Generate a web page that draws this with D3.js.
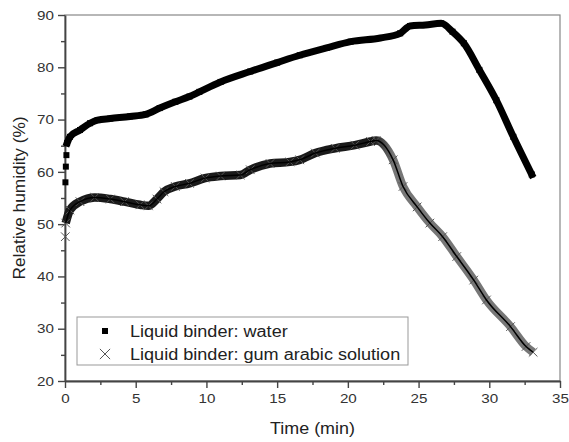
<!DOCTYPE html>
<html>
<head>
<meta charset="utf-8">
<script src="https://cdn.jsdelivr.net/npm/d3@7"></script>
<style>
  body { margin: 0; background: #fff; }
  svg { font-family: "Liberation Sans", Arial, sans-serif; }
</style>
</head>
<body>
<svg id="chart"></svg>
<script>
// values
const waterTime = [0.03, 0.06, 0.1, 0.15, 0.35, 1.06, 1.77, 2.3, 3.2, 4.6, 5.7, 6.7, 7.8, 8.8, 9.5, 11, 13.1, 15, 16.6, 18.5, 20.2, 22.3, 23.7, 24.4, 25.5, 26.6, 27.4, 28.2, 29.3, 30.5, 31.7, 33.0];
const waterRH   = [58, 61, 63.2, 65.5, 66.7, 68, 69.3, 69.9, 70.2, 70.6, 71.0, 72.2, 73.4, 74.4, 75.3, 77.2, 79.2, 80.9, 82.3, 83.7, 84.9, 85.6, 86.5, 87.9, 88.1, 88.4, 86.8, 84.6, 79.5, 73.7, 66.7, 59.5];

const gumTime = [0.02, 0.05, 0.35, 1.06, 2.1, 3.2, 4.2, 5.3, 5.9, 6.5, 7.0, 7.8, 8.8, 9.9, 11, 12.4, 13.1, 14.5, 15.9, 16.6, 17.7, 19.1, 20.5, 21.6, 22.0, 23.2, 23.9, 24.9, 25.8, 26.7, 27.7, 28.9, 29.8, 31.5, 32.6, 33.1];
const gumRH   = [47.6, 50.2, 52.7, 54.3, 55.1, 54.8, 54.3, 53.7, 53.5, 54.8, 56.2, 57.2, 57.8, 58.8, 59.2, 59.4, 60.4, 61.6, 61.9, 62.3, 63.6, 64.5, 65.1, 65.8, 66.0, 62.3, 57.2, 53.3, 50.2, 47.6, 43.8, 39.3, 35.5, 30.4, 26.6, 25.5];

const xTicks = [0, 5, 10, 15, 20, 25, 30, 35];
const yTicks = [20, 30, 40, 50, 60, 70, 80, 90];
const legendLabels = ["Liquid binder: water", "Liquid binder: gum arabic solution"];

const W = 569, H = 442;
const margin = { top: 15, right: 9, bottom: 61, left: 65 };
const width = W - margin.left - margin.right;
const height = H - margin.top - margin.bottom;
const stretch = 1.17; // the source image text is a bit wide

const svg = d3.select("#chart").attr("width", W).attr("height", H);
const g = svg.append("g").attr("transform", `translate(${margin.left},${margin.top})`);

const x = d3.scaleLinear().domain([0, 35]).range([0, width]);
const y = d3.scaleLinear().domain([20, 90]).range([height, 0]);

// frame (top / right)
g.append("rect")
  .attr("width", width).attr("height", height)
  .attr("fill", "none").attr("stroke", "#888").attr("stroke-width", 1.2);

// minor ticks
g.append("g")
  .attr("transform", `translate(0,${height})`)
  .call(d3.axisBottom(x).tickValues(d3.range(2.5, 35, 5)).tickSize(4).tickFormat(""))
  .call(a => a.select(".domain").remove())
  .selectAll("line").attr("stroke", "#444").attr("stroke-width", 1.4);
g.append("g")
  .call(d3.axisLeft(y).tickValues(d3.range(25, 90, 10)).tickSize(4).tickFormat(""))
  .call(a => a.select(".domain").remove())
  .selectAll("line").attr("stroke", "#444").attr("stroke-width", 1.4);

// major axes
const xAxis = g.append("g")
  .attr("transform", `translate(0,${height})`)
  .call(d3.axisBottom(x).tickValues(xTicks).tickSize(7).tickSizeOuter(0).tickPadding(6));
const yAxis = g.append("g")
  .call(d3.axisLeft(y).tickValues(yTicks).tickSize(7).tickSizeOuter(0).tickPadding(4));
[xAxis, yAxis].forEach(a => {
  a.select(".domain").attr("stroke", "#444").attr("stroke-width", 1.8);
  a.selectAll(".tick line").attr("stroke", "#444").attr("stroke-width", 1.4);
  a.selectAll(".tick text").attr("fill", "#333").style("font-size", "13px")
    .style("font-family", "Liberation Sans, Arial, sans-serif")
    .attr("transform", `scale(${stretch},1)`);
});
yAxis.selectAll(".tick text").attr("x", -11 / stretch);

// axis titles
svg.append("text")
  .attr("transform", `translate(${margin.left + width / 2},434) scale(1.12,1)`)
  .attr("text-anchor", "middle").attr("fill", "#222")
  .style("font-size", "16px").text("Time (min)");
svg.append("text")
  .attr("transform", `translate(25,${margin.top + height / 2}) rotate(-90) scale(1.08,1)`)
  .attr("text-anchor", "middle").attr("fill", "#222")
  .style("font-size", "16px").text("Relative humidity (%)");

const line = d3.line().x(d => x(d[0])).y(d => y(d[1])).curve(d3.curveMonotoneX);
const water = waterTime.map((t, i) => [t, waterRH[i]]);
const gum = gumTime.map((t, i) => [t, gumRH[i]]);

// gum arabic band: dark on the rising part, gray on the fall
const grad = svg.append("defs").append("linearGradient")
  .attr("id", "gumGrad").attr("gradientUnits", "userSpaceOnUse")
  .attr("x1", x(21.8)).attr("x2", x(23.2)).attr("y1", 0).attr("y2", 0);
grad.append("stop").attr("offset", "0%").attr("stop-color", "#1a1a1a");
grad.append("stop").attr("offset", "100%").attr("stop-color", "#777");

g.append("path").datum(gum.slice(1))
  .attr("d", line).attr("fill", "none")
  .attr("stroke", "url(#gumGrad)").attr("stroke-width", 8.5).attr("stroke-linejoin", "round");

const cross = d3.symbol().type(d3.symbolX).size(50);
g.selectAll(".gumPt").data(gum).enter().append("path")
  .attr("class", "gumPt")
  .attr("transform", d => `translate(${x(d[0])},${y(d[1])})`)
  .attr("d", cross).attr("fill", "none").attr("stroke", "#555").attr("stroke-width", 1);

g.append("path").datum(gum.slice(1))
  .attr("d", line).attr("fill", "none")
  .attr("stroke", "#000").attr("stroke-width", 1.5);

// water band
g.append("path").datum(water.slice(3))
  .attr("d", line).attr("fill", "none")
  .attr("stroke", "#000").attr("stroke-width", 7).attr("stroke-linecap", "square").attr("stroke-linejoin", "round");
g.selectAll(".waterPt").data(water).enter().append("rect")
  .attr("class", "waterPt")
  .attr("x", d => x(d[0]) - 3).attr("y", d => y(d[1]) - 3)
  .attr("width", 6).attr("height", 6).attr("fill", "#000");

// legend
const leg = svg.append("g").attr("transform", "translate(77,317)");
leg.append("rect").attr("width", 331).attr("height", 48)
  .attr("fill", "#fff").attr("stroke", "#999").attr("stroke-width", 1);
leg.append("rect").attr("x", 25).attr("y", 11).attr("width", 6).attr("height", 6).attr("fill", "#000");
leg.append("path").attr("transform", "translate(28,37)")
  .attr("d", d3.symbol().type(d3.symbolX).size(70)).attr("fill", "none")
  .attr("stroke", "#555").attr("stroke-width", 1);
leg.selectAll(".legText").data(legendLabels).enter().append("text")
  .attr("class", "legText")
  .attr("transform", (d, i) => `translate(53,${20 + i * 23}) scale(1.13,1)`)
  .attr("fill", "#222").style("font-size", "16px").text(d => d);
</script>
</body>
</html>
